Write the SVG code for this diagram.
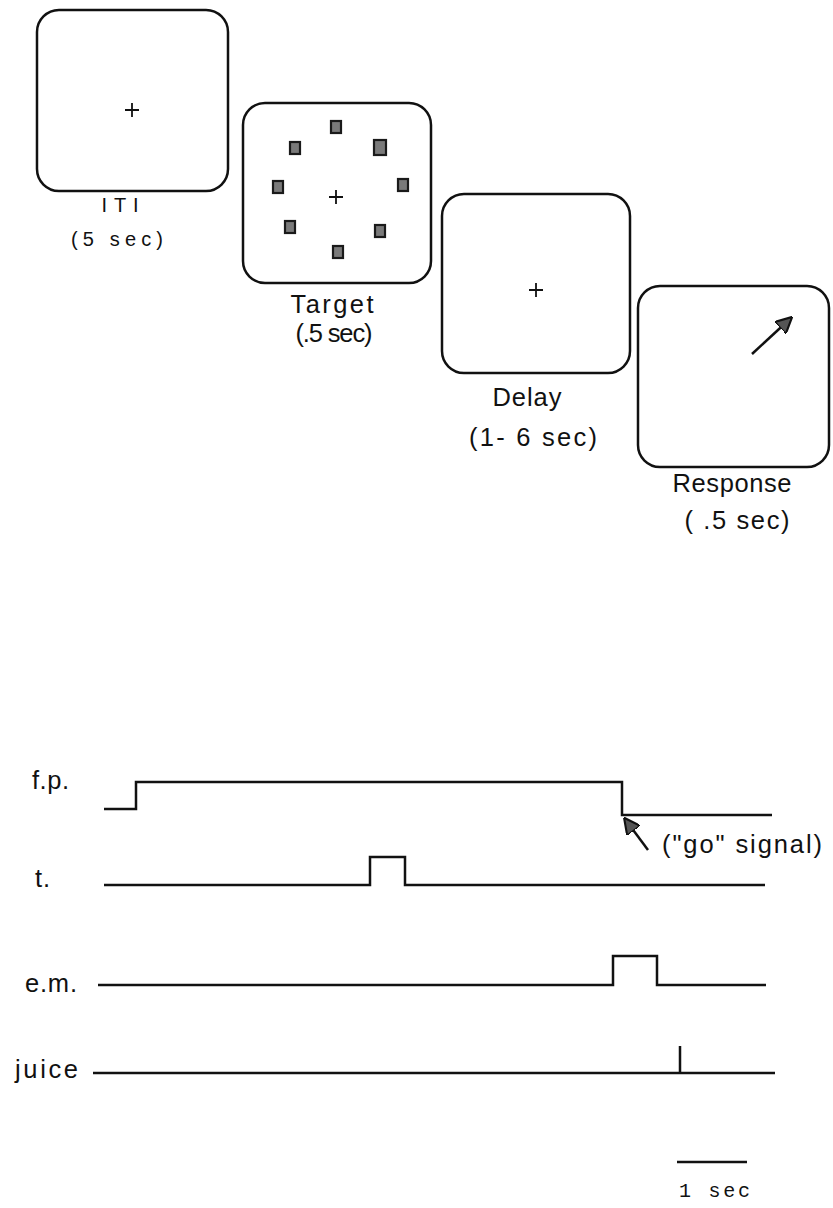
<svg xmlns="http://www.w3.org/2000/svg" width="833" height="1208" viewBox="0 0 833 1208">
<style>
.box{fill:#fff;stroke:#111;stroke-width:2.5}
.cross{stroke:#111;stroke-width:1.8;fill:none}
.sq{fill:#7a7a7a;stroke:#1a1a1a;stroke-width:2.2}
.lbl{font-family:"Liberation Sans",Arial,sans-serif;font-size:25.5px;fill:#111}
.thin{font-family:"Liberation Sans",Arial,sans-serif;font-size:20px;fill:#111}
.mono{font-family:"Liberation Mono","Courier New",monospace;font-size:20px;fill:#111}
.sig{fill:none;stroke:#111;stroke-width:2.5}
</style>
<defs>
<marker id="ah" viewBox="0 0 10 10" refX="9" refY="5" markerWidth="6.5" markerHeight="6.5" orient="auto" markerUnits="strokeWidth">
<path d="M0,0 L10,5 L0,10 z" fill="#555" stroke="#111" stroke-width="1.3"/>
</marker>
</defs>
<rect width="833" height="1208" fill="#fff"/>

<g id="iti">
<rect class="box" x="37" y="10" width="191" height="181" rx="22"/>
<path class="cross" d="M125,110 H139 M132,103 V117"/>
<text class="thin" x="120" y="212" text-anchor="middle" textLength="37" lengthAdjust="spacing">ITI</text>
<text class="thin" x="117" y="246" text-anchor="middle" textLength="92" lengthAdjust="spacing">(5 sec)</text>
</g>

<g id="target">
<rect class="box" x="243" y="103" width="188" height="180" rx="22"/>
<path class="cross" d="M329,197 H343 M336,190 V204"/>
<rect class="sq" x="331" y="121" width="10" height="12"/>
<rect class="sq" x="290" y="142" width="10" height="12"/>
<rect class="sq" x="374" y="140" width="12" height="15"/>
<rect class="sq" x="273" y="181" width="10" height="12"/>
<rect class="sq" x="398" y="179" width="10" height="12"/>
<rect class="sq" x="285" y="221" width="10" height="12"/>
<rect class="sq" x="375" y="225" width="10" height="12"/>
<rect class="sq" x="333" y="246" width="10" height="12"/>
<text class="lbl" x="332" y="313" text-anchor="middle" textLength="83" lengthAdjust="spacing">Target</text>
<text class="lbl" x="334" y="342" text-anchor="middle" font-size="23" textLength="77" lengthAdjust="spacing">(.5 sec)</text>
</g>

<g id="delay">
<rect class="box" x="442" y="194" width="188" height="179" rx="22"/>
<path class="cross" d="M529,290 H543 M536,283 V297"/>
<text class="lbl" x="527" y="406" text-anchor="middle" textLength="69" lengthAdjust="spacing">Delay</text>
<text class="lbl" x="533" y="446" text-anchor="middle" textLength="128" lengthAdjust="spacing">(1- 6 sec)</text>
</g>

<g id="response">
<rect class="box" x="638" y="286" width="191" height="181" rx="22"/>
<line x1="752" y1="354" x2="791" y2="318" stroke="#111" stroke-width="2.5" marker-end="url(#ah)"/>
<text class="lbl" x="732" y="492" text-anchor="middle" textLength="119" lengthAdjust="spacing">Response</text>
<text class="lbl" x="737" y="529" text-anchor="middle" textLength="105" lengthAdjust="spacing">( .5 sec)</text>
</g>

<g id="labels">
<text class="lbl" x="32" y="789" textLength="37" lengthAdjust="spacing">f.p.</text>
<text class="lbl" x="35" y="887" textLength="15" lengthAdjust="spacing">t.</text>
<text class="lbl" x="25" y="992" textLength="52" lengthAdjust="spacing">e.m.</text>
<text class="lbl" x="15" y="1078" textLength="63" lengthAdjust="spacing">juice</text>
<text class="lbl" x="662" y="853" textLength="160" lengthAdjust="spacing">("go"  signal)</text>
</g>

<g id="connectors">
<path class="sig" d="M104,809 H136 V782 H622 V815 H772"/>
<line x1="648" y1="850" x2="625" y2="819" stroke="#111" stroke-width="2.5" marker-end="url(#ah)"/>
<path class="sig" d="M104,885 H370 V857 H405 V885 H765"/>
<path class="sig" d="M98,985 H613 V956 H657 V985 H766"/>
<path class="sig" d="M93,1073 H775 M680,1073 V1046"/>
<line x1="677" y1="1162" x2="747" y2="1162" stroke="#111" stroke-width="2.5"/>
</g>

<g id="scale">
<text class="mono" x="679" y="1197" textLength="71" lengthAdjust="spacing">1 sec</text>
</g>
</svg>
